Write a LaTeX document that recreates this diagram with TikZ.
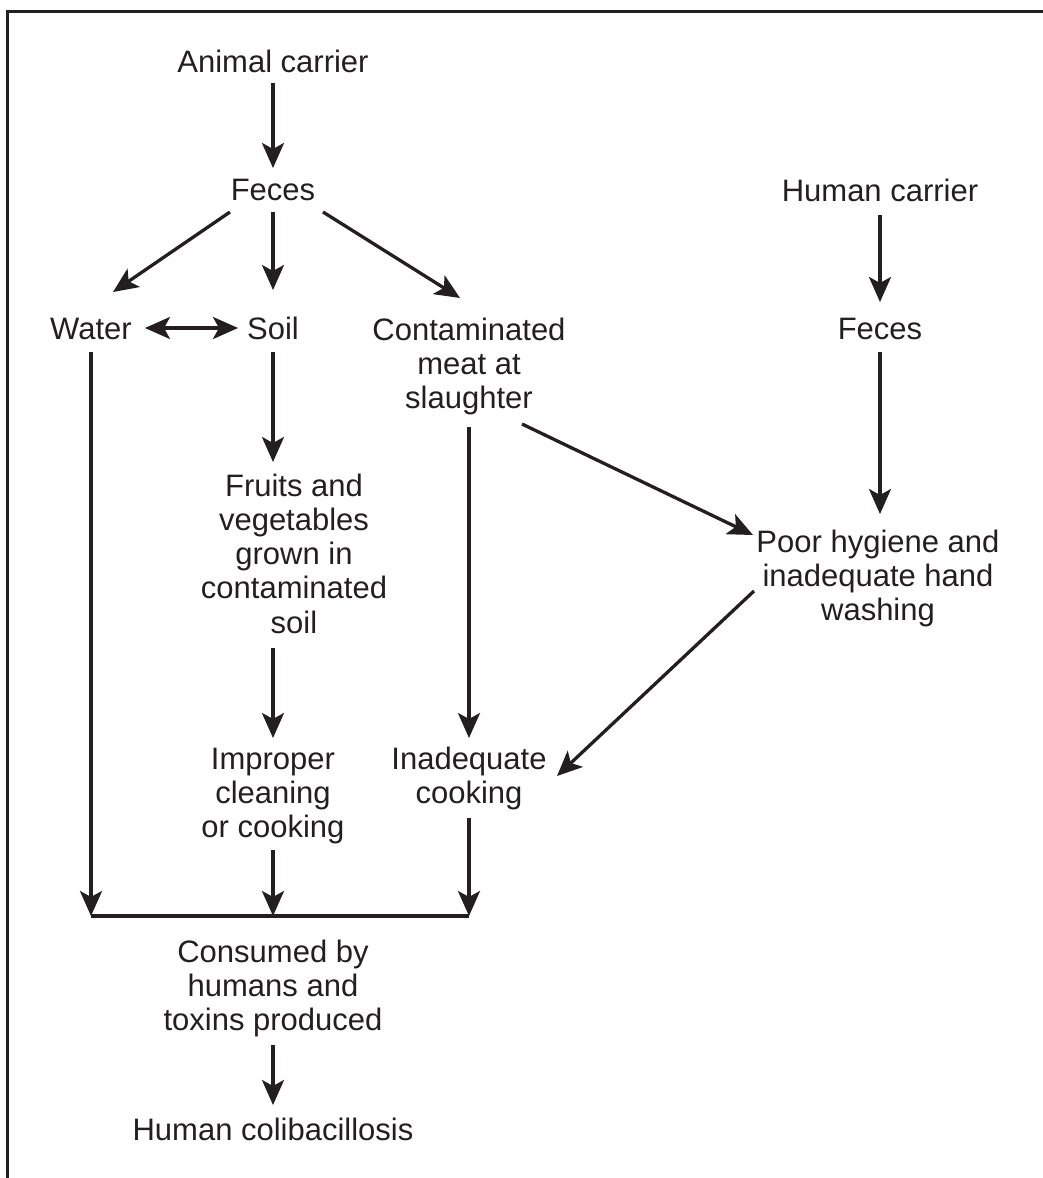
\documentclass[tikz,border=0pt]{standalone}
\usepackage{fontspec}
\setmainfont{Liberation Sans}
\usetikzlibrary{arrows.meta}
\definecolor{ink}{HTML}{231F20}
\begin{document}
\begin{tikzpicture}[x=1bp,y=-1bp,
  lbl/.style={anchor=north, inner sep=0pt, outer sep=0pt, align=center,
    text=ink, font=\fontsize{31bp}{34.3bp}\selectfont},
  arr/.style={draw=ink, line width=3.3bp,
    -{Stealth[length=25bp,width=22bp,inset=6bp]}},
  dbl/.style={draw=ink, line width=3.3bp,
    {Stealth[length=25bp,width=22bp,inset=6bp]}-{Stealth[length=25bp,width=22bp,inset=6bp]}},
  rule/.style={draw=ink, line width=3.3bp}]
\useasboundingbox (0,0) rectangle (1043,1178);
% frame edges
\draw[rule] (1043,11.5) -- (7.5,11.5) -- (7.5,1178);

% labels
\node[lbl] (ac)    at (273,48)  {\strut Animal carrier\strut};
\node[lbl] (fecL)  at (273,176) {\strut Feces\strut};
\node[lbl] (hc)    at (880,177) {\strut Human carrier\strut};
\node[lbl] (water) at (91,315)  {\strut Water\strut};
\node[lbl] (soil)  at (273,315) {\strut Soil\strut};
\node[lbl] (cont)  at (469,316) {\strut Contaminated\\meat at\\slaughter\strut};
\node[lbl] (fecR)  at (880,315) {\strut Feces\strut};
\node[lbl] (fruit) at (294,472) {\strut Fruits and\\vegetables\\grown in\\contaminated\\soil\strut};
\node[lbl] (poor)  at (878,528) {\strut Poor hygiene and\\inadequate hand\\washing\strut};
\node[lbl] (impr)  at (273,745) {\strut Improper\\cleaning\\or cooking\strut};
\node[lbl] (inad)  at (469,745) {\strut Inadequate\\cooking\strut};
\node[lbl] (cons)  at (273,938) {\strut Consumed by\\humans and\\toxins produced\strut};
\node[lbl] (colib) at (273,1116) {\strut Human colibacillosis\strut};

% collecting bar
\coordinate (barL) at (91,916);
\coordinate (barM) at (273,916);
\coordinate (barR) at (469,916);
\draw[rule] (barL) -- (barR);

% connectors
\draw[arr] ([shift={(0,35)}]ac.north) -- ([shift={(0,-8)}]fecL.north);
\draw[arr] ([shift={(-43,36)}]fecL.north) -- ([shift={(22,-23)}]water.north);
\draw[arr] ([shift={(0,36)}]fecL.north) -- ([shift={(0,-25)}]soil.north);
\draw[arr] ([shift={(50,36)}]fecL.north) -- ([shift={(-9,-18)}]cont.north);
\draw[dbl] ([shift={(54,13)}]water.north) -- ([shift={(-35,13)}]soil.north);
\draw[arr] ([shift={(0,37)}]water.north) -- (barL);
\draw[arr] ([shift={(0,37)}]soil.north) -- ([shift={(-21,-10)}]fruit.north);
\draw[arr] ([shift={(-21,176)}]fruit.north) -- ([shift={(0,-7)}]impr.north);
\draw[arr] ([shift={(0,105)}]impr.north) -- (barM);
\draw[arr] ([shift={(0,111)}]cont.north) -- ([shift={(0,-7)}]inad.north);
\draw[arr] ([shift={(0,73)}]inad.north) -- (barR);
\draw[arr] ([shift={(53,108)}]cont.north) -- ([shift={(-125,7)}]poor.north);
\draw[arr] ([shift={(-124,63)}]poor.north) -- ([shift={(88,31)}]inad.north);
\draw[arr] ([shift={(0,38)}]hc.north) -- ([shift={(0,-13)}]fecR.north);
\draw[arr] ([shift={(0,37)}]fecR.north) -- ([shift={(2,-14)}]poor.north);
\draw[arr] ([shift={(0,107)}]cons.north) -- ([shift={(0,-11)}]colib.north);
\end{tikzpicture}
\end{document}
